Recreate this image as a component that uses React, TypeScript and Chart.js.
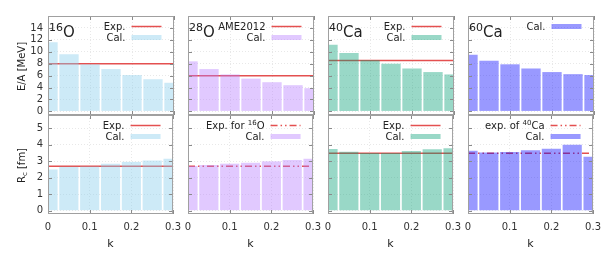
import React, { useEffect, useRef } from "react";
import { Chart, registerables } from "chart.js";

Chart.register(...registerables);

// ---------------- data ----------------
const kValues = [0, 0.05, 0.1, 0.15, 0.2, 0.25, 0.3];
const kTicks = [0, 0.1, 0.2, 0.3];
const eaTicks = [0, 2, 4, 6, 8, 10, 12, 14];
const rcTicks = [0, 1, 2, 3, 4, 5];

const nucleusLabels = ["^{16}O", "^{28}O", "^{40}Ca", "^{60}Ca"];

const ea16O = [11.6, 9.6, 7.9, 7.1, 6.1, 5.4, 4.8];
const ea28O = [8.4, 7.1, 6.2, 5.5, 4.9, 4.4, 3.9];
const ea40Ca = [11.2, 9.8, 8.6, 8.0, 7.2, 6.6, 6.2];
const ea60Ca = [9.5, 8.5, 7.9, 7.2, 6.6, 6.25, 6.1];

const rc16O = [2.5, 2.66, 2.68, 2.84, 2.96, 3.04, 3.15];
const rc28O = [2.71, 2.77, 2.85, 2.91, 2.99, 3.07, 3.15];
const rc40Ca = [3.74, 3.58, 3.5, 3.5, 3.62, 3.72, 3.78];
const rc60Ca = [3.64, 3.52, 3.56, 3.66, 3.76, 3.99, 3.27];

const expEA: (number | null)[] = [7.98, 5.99, 8.55, null];
const expRc: (number | null)[] = [2.7, 2.7, 3.48, 3.48];
const expEALabels = ["Exp.", "AME2012", "Exp.", ""];
const expRcLabels = ["Exp.", "Exp. for ^{16}O", "Exp.", "exp. of ^{40}Ca"];
const expRcDashed = [false, true, false, true];
const calLabel = "Cal.";

const eaRange = [-0.6, 16];
const rcRange = [-0.2, 5.8];
const kRange = [0, 0.3];

const eaSeries = [ea16O, ea28O, ea40Ca, ea60Ca];
const rcSeries = [rc16O, rc28O, rc40Ca, rc60Ca];

// ---------------- style ----------------
const barColors = [
  "rgba(135,206,235,0.42)",
  "rgba(180,120,255,0.40)",
  "rgba(0,158,115,0.40)",
  "rgba(0,0,255,0.40)",
];
const expColor = "rgb(228,80,80)";
const FONT = "'DejaVu Sans', Verdana, sans-serif";
const TEXT = "#222";

// layout (page pixels)
const PLOT_LEFT = [48, 188, 328, 468];
const PLOT_W = 126;
const Y_AXIS_W = 48;
const SIDE_PAD = 14;
const TOP0 = 16;
const ROW_H = 99;
const X_AXIS_H = 44;
const EDGE_PAD = 12;

type Seg = { t: string; sup: boolean };
function parseRich(s: string): Seg[] {
  const out: Seg[] = [];
  const re = /\^\{([^}]*)\}/g;
  let last = 0;
  let m: RegExpExecArray | null;
  while ((m = re.exec(s))) {
    if (m.index > last) out.push({ t: s.slice(last, m.index), sup: false });
    out.push({ t: m[1], sup: true });
    last = m.index + m[0].length;
  }
  if (last < s.length) out.push({ t: s.slice(last), sup: false });
  return out;
}

function drawRich(
  ctx: CanvasRenderingContext2D,
  s: string,
  x: number,
  y: number,
  align: "left" | "right",
  size: number,
  supSize: number,
  rise: number
) {
  const segs = parseRich(s);
  const widths = segs.map((sg) => {
    ctx.font = `${sg.sup ? supSize : size}px ${FONT}`;
    return ctx.measureText(sg.t).width;
  });
  const total = widths.reduce((a, b) => a + b, 0);
  let cx = align === "left" ? x : x - total;
  ctx.textAlign = "left";
  ctx.textBaseline = "alphabetic";
  segs.forEach((sg, i) => {
    ctx.font = `${sg.sup ? supSize : size}px ${FONT}`;
    ctx.fillText(sg.t, cx, sg.sup ? y - rise : y);
    cx += widths[i];
  });
}

function Panel({ row, col }: { row: number; col: number }) {
  const ref = useRef<HTMLCanvasElement>(null);

  const left = col === 0 ? 0 : PLOT_LEFT[col] - SIDE_PAD;
  const width = (col === 0 ? Y_AXIS_W : SIDE_PAD) + PLOT_W + SIDE_PAD;
  const top = row === 0 ? 0 : TOP0 + ROW_H - EDGE_PAD;
  const height = row === 0 ? TOP0 + ROW_H + EDGE_PAD : EDGE_PAD + ROW_H + X_AXIS_H;

  useEffect(() => {
    const canvas = ref.current!;
    const values = row === 0 ? eaSeries[col] : rcSeries[col];
    const exp = row === 0 ? expEA[col] : expRc[col];
    const expLabel = row === 0 ? expEALabels[col] : expRcLabels[col];
    const dashed = row === 1 && expRcDashed[col];
    const range = row === 0 ? eaRange : rcRange;
    const yTicks = row === 0 ? eaTicks : rcTicks;

    const datasets: any[] = [
      {
        type: "bar",
        data: kValues.map((k, i) => ({ x: k, y: values[i] })),
        backgroundColor: barColors[col],
        borderWidth: 0,
        barPercentage: 0.92,
        categoryPercentage: 1,
        order: 1,
      },
    ];
    if (exp !== null) {
      datasets.push({
        type: "line",
        data: [
          { x: kRange[0], y: exp },
          { x: kRange[1], y: exp },
        ],
        borderColor: expColor,
        borderWidth: 1.5,
        borderDash: dashed ? [7, 3, 1.5, 3, 1.5, 3] : [],
        pointRadius: 0,
        fill: false,
        order: 2,
      });
    }

    const legendEntries: { label: string; kind: "line" | "box" }[] = [];
    if (exp !== null && expLabel) legendEntries.push({ label: expLabel, kind: "line" });
    legendEntries.push({ label: calLabel, kind: "box" });

    const decor = {
      id: "decor",
      afterDatasetsDraw(chart: any) {
        const ctx: CanvasRenderingContext2D = chart.ctx;
        const a = chart.chartArea;
        const xs = chart.scales.x;
        const ys = chart.scales.y;
        ctx.save();
        // inward ticks
        ctx.strokeStyle = "#8a8a8a";
        ctx.lineWidth = 1;
        ctx.beginPath();
        yTicks.forEach((v) => {
          const p = Math.round(ys.getPixelForValue(v)) + 0.5;
          ctx.moveTo(a.left, p);
          ctx.lineTo(a.left + 4, p);
          ctx.moveTo(a.right, p);
          ctx.lineTo(a.right - 4, p);
        });
        kTicks.forEach((v) => {
          const p = Math.round(xs.getPixelForValue(v)) + 0.5;
          ctx.moveTo(p, a.bottom);
          ctx.lineTo(p, a.bottom - 4);
          ctx.moveTo(p, a.top);
          ctx.lineTo(p, a.top + 4);
        });
        ctx.stroke();
        // box
        ctx.strokeStyle = "#a0a0a0";
        ctx.strokeRect(a.left + 0.5, a.top + 0.5, a.right - a.left - 1, a.bottom - a.top - 1);

        // legend
        const sampleRight = a.right - 12.5;
        const sampleLeft = sampleRight - 30;
        legendEntries.forEach((e, i) => {
          const yy = a.top + 10.5 + i * 11;
          ctx.fillStyle = TEXT;
          drawRich(ctx, e.label, sampleLeft - 6, yy + 3.5, "right", 10, 7, 4);
          if (e.kind === "line") {
            ctx.strokeStyle = expColor;
            ctx.lineWidth = 1.5;
            ctx.setLineDash(dashed ? [7, 3, 1.5, 3, 1.5, 3] : []);
            ctx.beginPath();
            ctx.moveTo(sampleLeft, yy);
            ctx.lineTo(sampleRight, yy);
            ctx.stroke();
            ctx.setLineDash([]);
          } else {
            ctx.fillStyle = barColors[col];
            ctx.fillRect(sampleLeft, yy - 2.5, 30, 5);
          }
        });

        // nucleus label
        if (row === 0) {
          ctx.fillStyle = TEXT;
          drawRich(ctx, nucleusLabels[col], a.left + 1, a.top + 21, "left", 15, 11, 6.5);
        }

        // y title (first column)
        if (col === 0) {
          const midY = (a.top + a.bottom) / 2 + 1;
          ctx.translate(22, midY);
          ctx.rotate(-Math.PI / 2);
          ctx.fillStyle = TEXT;
          ctx.textBaseline = "middle";
          ctx.textAlign = "left";
          if (row === 0) {
            ctx.font = `10px ${FONT}`;
            ctx.textAlign = "center";
            ctx.fillText("E/A [MeV]", 0, 0);
          } else {
            ctx.font = `10px ${FONT}`;
            const wR = ctx.measureText("R").width;
            const wRest = ctx.measureText(" [fm]").width;
            ctx.font = `7px ${FONT}`;
            const wc = ctx.measureText("c").width;
            const total = wR + wc + wRest;
            let x0 = -total / 2;
            ctx.font = `10px ${FONT}`;
            ctx.fillText("R", x0, 0);
            x0 += wR;
            ctx.font = `7px ${FONT}`;
            ctx.fillText("c", x0, 3);
            x0 += wc;
            ctx.font = `10px ${FONT}`;
            ctx.fillText(" [fm]", x0, 0);
          }
        }
        ctx.restore();
      },
    };

    const chart = new Chart(canvas, {
      type: "bar",
      data: { datasets },
      options: {
        animation: false,
        responsive: false,
        events: [],
        layout: {
          padding: {
            left: col === 0 ? 0 : SIDE_PAD,
            right: SIDE_PAD,
            top: row === 0 ? TOP0 : EDGE_PAD,
            bottom: row === 0 ? EDGE_PAD : 0,
          },
        },
        plugins: { legend: { display: false }, tooltip: { enabled: false } },
        scales: {
          x: {
            type: "linear",
            min: kRange[0],
            max: kRange[1],
            offset: false,
            grid: {
              offset: false,
              drawTicks: false,
              color: "rgba(0,0,0,0.09)",
              lineWidth: 1,
            },
            border: { display: false, dash: [1, 2] },
            afterBuildTicks: (s: any) => {
              s.ticks = kTicks.map((v) => ({ value: v }));
            },
            afterFit: (s: any) => {
              s.height = row === 0 ? 0 : X_AXIS_H;
            },
            ticks: {
              display: row === 1,
              padding: 7,
              maxRotation: 0,
              autoSkip: false,
              color: "#333",
              font: { family: FONT, size: 10 },
              callback: (v: any) => String(v),
            },
            title: {
              display: row === 1,
              text: "k",
              color: TEXT,
              font: { family: FONT, size: 11 },
              padding: { top: 0, bottom: 7 },
            },
          },
          y: {
            type: "linear",
            min: range[0],
            max: range[1],
            grid: {
              drawTicks: false,
              color: "rgba(0,0,0,0.09)",
              lineWidth: 1,
            },
            border: { display: false, dash: [1, 2] },
            afterBuildTicks: (s: any) => {
              s.ticks = yTicks.map((v) => ({ value: v }));
            },
            afterFit: (s: any) => {
              s.width = col === 0 ? Y_AXIS_W : 0;
            },
            ticks: {
              display: col === 0,
              padding: 5,
              autoSkip: false,
              color: "#333",
              font: { family: FONT, size: 10 },
              callback: (v: any) => String(v),
            },
          },
        },
      } as any,
      plugins: [decor],
    } as any);
    return () => chart.destroy();
  }, [row, col]);

  return (
    <canvas
      ref={ref}
      width={width}
      height={height}
      style={{ position: "absolute", left, top, width, height }}
    />
  );
}

export default function App() {
  return (
    <div
      style={{
        position: "fixed",
        left: 0,
        top: 0,
        width: 616,
        height: 258,
        background: "#fff",
        overflow: "hidden",
      }}
    >
      {[0, 1].map((r) =>
        [0, 1, 2, 3].map((c) => <Panel key={`${r}-${c}`} row={r} col={c} />)
      )}
    </div>
  );
}
